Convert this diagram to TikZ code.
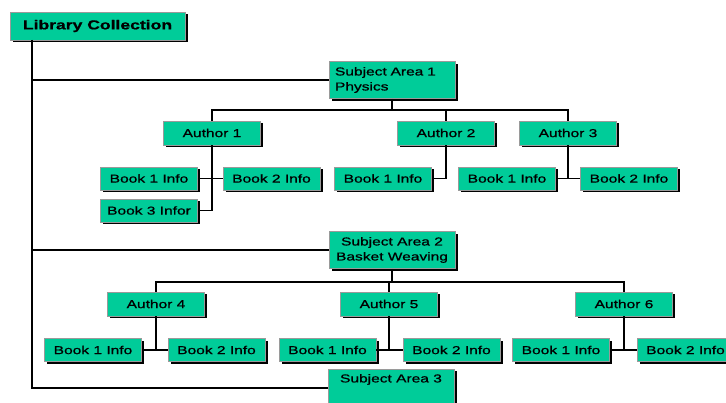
\documentclass[tikz,border=0pt]{standalone}
\usepackage{fontspec}
\setmainfont{Liberation Sans}[FakeStretch=1.35, FakeBold=0.8]
\usepackage{tikz}
\usetikzlibrary{shadows}
\definecolor{boxfill}{HTML}{00CC99}
\definecolor{boxedge}{HTML}{9A9A9A}
\tikzset{
	box/.style={draw=boxedge, line width=0.6pt, fill=boxfill, inner sep=0pt,
		drop shadow={shadow xshift=2.5pt, shadow yshift=-2.5pt, opacity=1, fill=black},
		font=\fontsize{11.5}{15}\selectfont, align=center},
	libbox/.style={box, minimum width=175pt, minimum height=28pt,
		font=\fontsize{13}{15}\selectfont\bfseries},
	subjbox/.style={box, minimum width=126pt, minimum height=37pt},
	authbox/.style={box, minimum width=97pt, minimum height=24pt},
	bookbox/.style={box, minimum width=97pt, minimum height=23pt},
	link/.style={line width=1.6pt, black},
}
\begin{document}
\begin{tikzpicture}[x=1pt, y=-1pt]
		\clip (0,0) rectangle (726,403);
		% top level
		\node[libbox] (lib) at (97.5,26) {Library Collection};
		\coordinate (trunk) at (32,40);
		% subject areas
		\node[subjbox, align=left, text width=114pt] (subj1) at (392,80) {Subject Area 1\\Physics};
		\node[subjbox] (subj2) at (392,250) {Subject Area 2\\Basket Weaving};
		\node[subjbox, minimum height=38pt] (subj3) at (391,388) {Subject Area 3\\\strut};
		% authors
		\node[authbox] (auth1) at (212,133) {Author 1};
		\node[authbox] (auth2) at (446,133) {Author 2};
		\node[authbox] (auth3) at (568,133) {Author 3};
		\node[authbox] (auth4) at (156,304) {Author 4};
		\node[authbox] (auth5) at (389,304) {Author 5};
		\node[authbox] (auth6) at (624,304) {Author 6};
		% books
		\node[bookbox] (book11) at (149,178.5) {Book 1 Info};
		\node[bookbox] (book12) at (271.5,178.5) {Book 2 Info};
		\node[bookbox] (book13) at (149,210.5) {Book 3 Infor};
		\node[bookbox] (book21) at (383,178.5) {Book 1 Info};
		\node[bookbox] (book31) at (507,178.5) {Book 1 Info};
		\node[bookbox] (book32) at (629,178.5) {Book 2 Info};
		\node[bookbox] (book41) at (93,350) {Book 1 Info};
		\node[bookbox] (book42) at (216.5,350) {Book 2 Info};
		\node[bookbox] (book51) at (327.5,350) {Book 1 Info};
		\node[bookbox] (book52) at (451.5,350) {Book 2 Info};
		\node[bookbox] (book61) at (561,350) {Book 1 Info};
		\node[bookbox] (book62) at (685.5,350) {Book 2 Info};
		% connectors
		\coordinate (bar1) at (391,110);
		\coordinate (bar2) at (391,282);
		\draw[link] (trunk) |- (subj3.west);
		\draw[link] (trunk |- subj1.west) -- (subj1.west);
		\draw[link] (trunk |- subj2.west) -- (subj2.west);
		\draw[link] (subj1.south) -- (subj1.south |- bar1);
		\draw[link] (auth1.north) |- (bar1) -| (auth3.north);
		\draw[link] (auth2.north) -- (auth2.north |- bar1);
		\draw[link] (subj2.south) -- (subj2.south |- bar2);
		\draw[link] (auth4.north) |- (bar2) -| (auth6.north);
		\draw[link] (auth5.north) -- (auth5.north |- bar2);
		\draw[link] (auth1.south) |- (book13.east);
		\draw[link] (book11.east) -- (book12.west);
		\draw[link] (auth2.south) |- (book21.east);
		\draw[link] (auth3.south) -- (auth3.south |- book31.east);
		\draw[link] (book31.east) -- (book32.west);
		\draw[link] (auth4.south) -- (auth4.south |- book41.east);
		\draw[link] (book41.east) -- (book42.west);
		\draw[link] (auth5.south) -- (auth5.south |- book51.east);
		\draw[link] (book51.east) -- (book52.west);
		\draw[link] (auth6.south) -- (auth6.south |- book61.east);
		\draw[link] (book61.east) -- (book62.west);
	\end{tikzpicture}
\end{document}
